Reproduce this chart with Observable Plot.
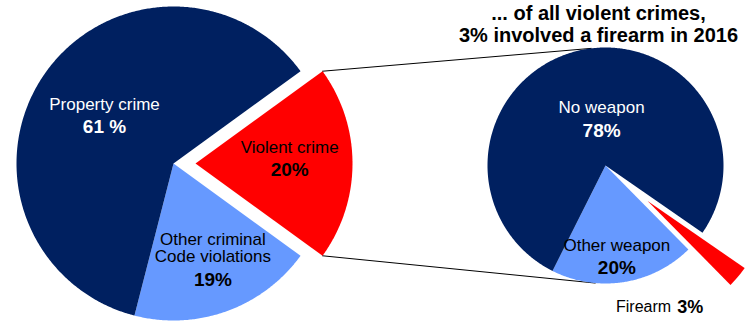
<!DOCTYPE html>
<html>
<head>
<meta charset="utf-8">
<script src="https://cdn.jsdelivr.net/npm/d3@7"></script>
<script src="https://cdn.jsdelivr.net/npm/@observablehq/plot@0.6"></script>
<style>
  html, body { margin: 0; padding: 0; background: #fff; }
  svg { display: block; font-family: "Liberation Sans", Arial, sans-serif; }
</style>
</head>
<body>
<div id="chart"></div>
<script>
// ---- data ----
const mainCategories = ["Violent crime", "Other criminal\nCode violations", "Property crime"];
const mainValues = [20, 19, 61];
const mainLabels = ["20%", "19%", "61 %"];

const subCategories = ["Firearm", "Other weapon", "No weapon"];
const subValues = [3, 20, 78];
const subLabels = ["3%", "20%", "78%"];

const titleLines = ["... of all violent crimes,", "3% involved a firearm in 2016"];

// ---- layout ----
const W = 749, H = 321;
const deg = Math.PI / 180;
const left = {cx: 173, cy: 163, r: 157, start: 54 * deg};
const right = {cx: 605, cy: 165, r: 118, start: 124.7 * deg};
const colors = {
  "Violent crime": "#FF0000",
  "Other criminal\nCode violations": "#6699FF",
  "Property crime": "#002060",
  "Firearm": "#FF0000",
  "Other weapon": "#6699FF",
  "No weapon": "#002060"
};
const explode = {"Violent crime": 22, "Firearm": 55};
// label placement: [angle in degrees clockwise from top, fraction of radius], relative to slice apex
const labelPolar = {
  "Violent crime": [88, 0.6],
  "Other criminal\nCode violations": [158, 0.67],
  "Property crime": [304, 0.53],
  "Firearm": [166, 0.93],
  "Other weapon": [173, 0.79],
  "No weapon": [355, 0.38]
};
const textColor = {
  "Violent crime": "#000", "Other criminal\nCode violations": "#000", "Property crime": "#fff",
  "Firearm": "#000", "Other weapon": "#000", "No weapon": "#fff"
};

function buildSlices(cats, vals, pcts, P) {
  const arcs = d3.pie().sort(null).startAngle(P.start).endAngle(P.start + 2 * Math.PI)(vals);
  return arcs.map((a, i) => {
    const name = cats[i];
    const mid = (a.startAngle + a.endAngle) / 2;
    const off = explode[name] || 0;
    const ax = P.cx + off * Math.sin(mid), ay = P.cy - off * Math.cos(mid);
    const pts = [{name, x: ax, y: ay}];
    const n = Math.max(8, Math.ceil((a.endAngle - a.startAngle) / (0.5 * deg)));
    for (let k = 0; k <= n; k++) {
      const t = a.startAngle + (a.endAngle - a.startAngle) * k / n;
      pts.push({name, x: ax + P.r * Math.sin(t), y: ay - P.r * Math.cos(t)});
    }
    pts.push({name, x: ax, y: ay});
    const [la, lk] = labelPolar[name];
    const lx = ax + lk * P.r * Math.sin(la * deg), ly = ay - lk * P.r * Math.cos(la * deg);
    return {name, pct: pcts[i], a, ax, ay, pts, lx, ly, r: P.r};
  });
}

const L = buildSlices(mainCategories, mainValues, mainLabels, left);
const R = buildSlices(subCategories, subValues, subLabels, right);

// connector lines: from exploded violent slice corners to top/bottom of right pie
const v = L[0];
const conn = [
  {id: "top", x: v.ax + v.r * Math.sin(v.a.startAngle), y: v.ay - v.r * Math.cos(v.a.startAngle)},
  {id: "top", x: right.cx + right.r * Math.sin(-7 * deg), y: right.cy - right.r * Math.cos(-7 * deg)},
  {id: "bot", x: v.ax + v.r * Math.sin(v.a.endAngle), y: v.ay - v.r * Math.cos(v.a.endAngle)},
  {id: "bot", x: right.cx + right.r * Math.sin(185 * deg), y: right.cy - right.r * Math.cos(185 * deg)}
];

const allPts = [...L, ...R].flatMap(s => s.pts);

// labels
const nameLabels = [];
const pctLabels = [];
const nameLineH = 17.5;
for (const s of [...L, ...R]) {
  if (s.name === "Firearm") continue;
  const lines = s.name.split("\n").length;
  const blockH = lines * nameLineH + 26;
  const top = s.ly - blockH / 2;
  nameLabels.push({text: s.name, x: s.lx, y: top + (lines * nameLineH) / 2, color: textColor[s.name]});
  pctLabels.push({text: s.pct, x: s.lx, y: top + lines * nameLineH + 14, color: textColor[s.name]});
}
const fire = R[0];
const titleData = titleLines.map((t, i) => ({text: t, x: right.cx - 7, y: right.cy - right.r - 34 + i * 22}));

const plot = Plot.plot({
  width: W, height: H,
  margin: 0,
  x: {domain: [0, W], range: [0, W], axis: null},
  y: {domain: [0, H], range: [0, H], axis: null},
  marks: [
    Plot.line(conn, {x: "x", y: "y", z: "id", stroke: "#000", strokeWidth: 1}),
    Plot.line(allPts, {x: "x", y: "y", z: "name", fill: d => colors[d.name], stroke: "none", curve: "linear"}),
    Plot.text(nameLabels, {x: "x", y: "y", text: "text", fill: "color", fontSize: 17, lineHeight: 1.03, textAnchor: "middle"}),
    Plot.text(pctLabels, {x: "x", y: "y", text: "text", fill: "color", fontSize: 19, fontWeight: "bold", textAnchor: "middle"}),
    Plot.text([fire], {x: "lx", y: "ly", text: () => "Firearm", fill: "#000", fontSize: 16, textAnchor: "end", dx: -3}),
    Plot.text([fire], {x: "lx", y: "ly", text: "pct", fill: "#000", fontSize: 18, fontWeight: "bold", textAnchor: "start", dx: 3}),
    Plot.text(titleData, {x: "x", y: "y", text: "text", fill: "#000", fontSize: 20, fontWeight: "bold", textAnchor: "middle"})
  ]
});
plot.style.fontFamily = '"Liberation Sans", Arial, sans-serif';
document.getElementById("chart").appendChild(plot);
</script>
</body>
</html>
